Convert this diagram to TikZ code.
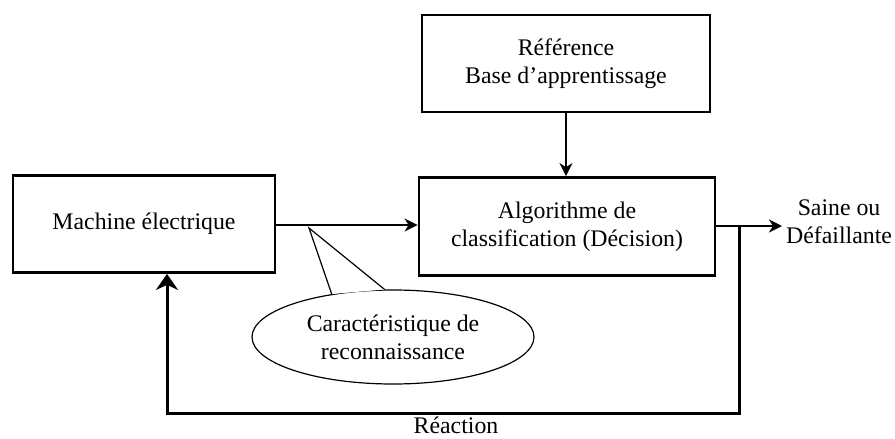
\documentclass[tikz,border=0pt]{standalone}
\usepackage{fontspec}
\setmainfont{Liberation Serif}
\usetikzlibrary{arrows.meta,shapes.geometric}
\tikzset{
  txt/.style={font=\fontsize{23.8}{28}\selectfont, align=center, inner sep=0pt},
  blockbox/.style={txt, draw, line width=2.8pt, rectangle},
  arr/.style={line width=2pt, -{Stealth[length=13pt,width=13pt,inset=4pt]}},
  fbarr/.style={line width=3pt, -{Stealth[length=16pt,width=22pt,inset=5pt]}},
  featbox/.style={txt, draw, line width=1.2pt, ellipse, minimum width=282pt, minimum height=94pt}
}
\begin{document}
\begin{tikzpicture}[x=1pt,y=-1pt]
\useasboundingbox[fill=white] (0,0) rectangle (895,439);
\node[blockbox, minimum width=262pt, minimum height=97pt] (machine) at (144,224) {Machine électrique};
\node[blockbox, minimum width=288pt, minimum height=97pt] (ref) at (566,63.5) {Référence\\Base d’apprentissage};
\node[blockbox, minimum width=296pt, minimum height=98pt] (algo) at (567,226.5) {Algorithme de\\classification (Décision)};
\node[featbox] (feat) at (393,337) {Caractéristique de\\reconnaissance};
\node[txt, anchor=west] (out) at (786,222) {Saine ou\\Défaillante};
\node[font=\fontsize{23.8}{28}\selectfont, inner sep=0pt] (react) at (456,425.5) {Réaction};
\coordinate (tip) at (309,228);
\coordinate (j) at (739,226);
\coordinate (outend) at (782,226);
\coordinate (fbx) at (167,413);
% connectors
\draw[arr] (ref.south) -- (ref.south |- algo.north);
\draw[arr] (machine.east |- 0,225) -- (algo.west |- 0,225);
\draw[arr] (j -| algo.east) -- (outend);
\draw[fbarr] (j) |- (fbx) -- (fbx |- machine.south);
% callout pointer
\fill[white] (feat.145) -- (tip) -- (feat.100) -- cycle;
\draw[line width=1.2pt, line join=miter] (feat.145) -- (tip) -- (feat.100);
\end{tikzpicture}
\end{document}
